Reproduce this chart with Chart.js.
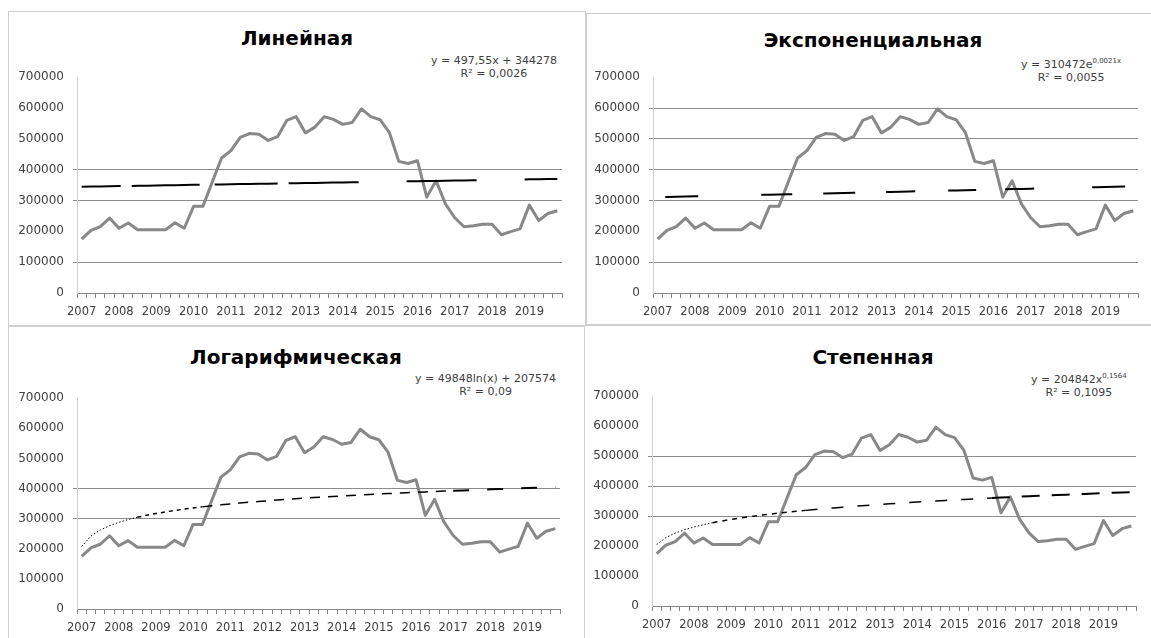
<!DOCTYPE html>
<html>
<head>
<meta charset="utf-8">
<script src="https://cdn.jsdelivr.net/npm/chart.js@4.4.0/dist/chart.umd.min.js"></script>
<style>
  body { margin: 0; background: #fff; width: 1151px; height: 638px; position: relative; overflow: hidden; font-family: "DejaVu Sans", sans-serif; }
  .panel { position: absolute; border: 1px solid #d0d0d0; box-sizing: border-box; }
  .title { position: absolute; font: bold 20px "DejaVu Sans", sans-serif; color: #000; white-space: nowrap; transform: translate(-50%, -50%); }
  .eq { position: absolute; font: 11px "DejaVu Sans", sans-serif; color: #404040; white-space: nowrap; text-align: center; line-height: 13px; }
  .eq sup { font-size: 7px; }
  canvas { position: absolute; }
</style>
</head>
<body>
<div class="panel" style="left:8px;top:11px;width:578px;height:315px"></div>
<div class="panel" style="left:586px;top:13px;width:566px;height:312px"></div>
<div class="panel" style="left:8px;top:326px;width:577px;height:313px"></div>
<div class="panel" style="left:584px;top:325px;width:568px;height:314px"></div>

<div class="title" style="left:297px;top:38px">Линейная</div>
<div class="title" style="left:873px;top:40px">Экспоненциальная</div>
<div class="title" style="left:296px;top:357px">Логарифмическая</div>
<div class="title" style="left:873px;top:357px">Степенная</div>

<div class="eq" style="left:431px;top:54px">y = 497,55x + 344278<br>R² = 0,0026</div>
<div class="eq" style="left:1021px;top:55px">y = 310472e<sup>0,0021x</sup><br>R² = 0,0055</div>
<div class="eq" style="left:415px;top:372px">y = 49848ln(x) + 207574<br>R² = 0,09</div>
<div class="eq" style="left:1031px;top:370px">y = 204842x<sup>0,1564</sup><br>R² = 0,1095</div>

<canvas id="c1"></canvas>
<canvas id="c2"></canvas>
<canvas id="c3"></canvas>
<canvas id="c4"></canvas>

<script>
const years = ['2007', '2008', '2009', '2010', '2011', '2012', '2013', '2014', '2015', '2016', '2017', '2018', '2019']
const quarters = ['I', 'II', 'III', 'IV']
const categories = years.flatMap(y => quarters.map(q => y + ' ' + q))

// значения по кварталам
const values = [
  175000, 203000, 215000, 243000, 210000, 227000, 205000, 205000,
  205000, 205000, 228000, 210000, 281000, 281000, 360000, 438000,
  462000, 505000, 517000, 515000, 495000, 507000, 560000, 572000,
  519000, 538000, 572000, 563000, 547000, 553000, 597000, 572000,
  562000, 520000, 427000, 420000, 429000, 311000, 364000, 289000,
  244000, 215000, 218000, 223000, 223000, 189000, 199000, 208000,
  285000, 235000, 258000, 267000
]

// коэффициенты линий тренда, как подписаны на графиках
const linCoef = [497.55, 344278]
const expCoef = [310472, 0.0021]
const logCoef = [49848, 207574]
const powCoef = [204842, 0.1564]

const yTicks = [0, 100000, 200000, 300000, 400000, 500000, 600000, 700000]

const trends = {
  lin: categories.map((c, i) => linCoef[0] * (i + 1) + linCoef[1]),
  exp: categories.map((c, i) => expCoef[0] * Math.exp(expCoef[1] * (i + 1))),
  log: categories.map((c, i) => logCoef[0] * Math.log(i + 1) + logCoef[1]),
  pow: categories.map((c, i) => powCoef[0] * Math.pow(i + 1, powCoef[1]))
}

const YW = 76, PT = 12, PR = 8, XH = 30

// steps: [с какого индекса, штрих, толщина]
function stepStyle(steps, i) {
  let s = steps[0]
  steps.forEach(st => { if (i >= st[0]) s = st })
  return s
}

function makeChart(id, area, trend, steps, grids) {
  const canvas = document.getElementById(id)
  const w = area.r - area.l + YW + PR
  const h = area.b - area.t + PT + XH
  canvas.width = w
  canvas.height = h
  canvas.style.left = (area.l - YW) + 'px'
  canvas.style.top = (area.t - PT) + 'px'

  return new Chart(canvas.getContext('2d'), {
    type: 'line',
    data: {
      labels: categories,
      datasets: [{
        data: trend,
        borderColor: '#000',
        borderWidth: steps[0][2],
        borderDash: steps[0][1],
        segment: {
          borderDash: ctx => stepStyle(steps, ctx.p0DataIndex)[1],
          borderWidth: ctx => stepStyle(steps, ctx.p0DataIndex)[2]
        },
        pointRadius: 0,
        tension: 0
      }, {
        data: values,
        borderColor: '#888888',
        borderWidth: 3,
        pointRadius: 0,
        tension: 0,
        borderJoinStyle: 'round'
      }]
    },
    options: {
      responsive: false,
      devicePixelRatio: 1,
      animation: false,
      layout: { padding: { top: PT, right: PR, left: 0, bottom: 0 } },
      plugins: { legend: { display: false }, tooltip: { enabled: false } },
      scales: {
        x: {
          offset: true,
          afterFit(s) { s.height = XH },
          grid: { offset: true, drawOnChartArea: false, tickLength: 5, color: '#868686' },
          border: { color: '#868686' },
          ticks: {
            autoSkip: false, maxRotation: 0, minRotation: 0, padding: 7,
            color: '#404040', font: { family: 'DejaVu Sans', size: 11.5 },
            callback: (v, i) => i % 4 === 0 ? categories[i].split(' ')[0] : ''
          }
        },
        y: {
          min: 0, max: 700000,
          afterFit(s) { s.width = YW },
          afterBuildTicks(s) { s.ticks = yTicks.map(v => ({ value: v })) },
          grid: {
            tickLength: 4,
            color: ctx => grids.includes(ctx.tick.value) ? '#8c8c8c' : 'rgba(0,0,0,0)'
          },
          border: { color: '#d0d0d0' },
          ticks: {
            padding: 9, color: '#404040', font: { family: 'DejaVu Sans', size: 12 },
            callback: v => String(v)
          }
        }
      }
    }
  })
}

makeChart('c1', { l: 77, r: 562, t: 72.5, b: 292.7 }, trends.lin,
  [[0, [39, 11, 68, 15, 63, 11, 70, 48, 70, 48, 40, 20], 2]],
  [100000, 300000, 400000])
makeChart('c2', { l: 653, r: 1138, t: 72.5, b: 292.7 }, trends.exp,
  [[0, [0, 7.6, 33, 63, 31, 31, 32, 31, 29, 33, 28, 29, 29, 58, 33, 50], 2]],
  [100000, 300000, 400000, 500000, 600000])
makeChart('c3', { l: 77, r: 560, t: 394, b: 609 }, trends.log,
  [[0, [1.5, 2], 1], [6, [4, 4], 1.5], [13, [10, 8], 1.5], [40, [16, 18], 2]],
  [300000, 400000])
makeChart('c4', { l: 652, r: 1136, t: 392, b: 606 }, trends.pow,
  [[0, [1.5, 2], 1], [6, [5, 5], 1.5], [16, [12, 14], 1.5], [36, [18, 12], 2]],
  [300000, 400000, 500000])
</script>
</body>
</html>
